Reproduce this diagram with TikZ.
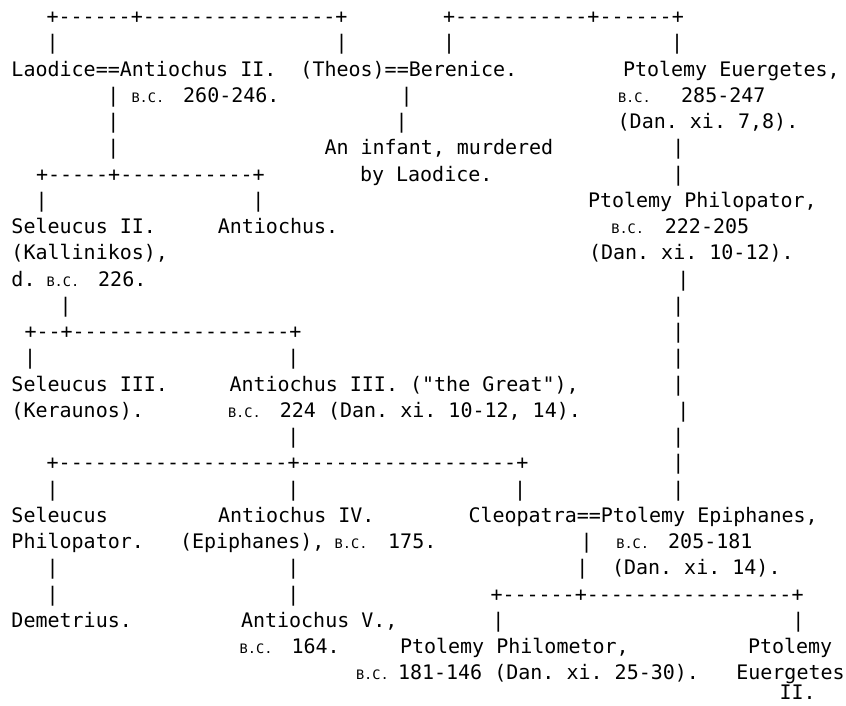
\documentclass[tikz,border=0pt]{standalone}
\usepackage{fontspec}
\setmonofont{DejaVu Sans Mono}
\newfontfamily\bcfont{DejaVu Sans Mono}[FakeStretch=1.05]
\frenchspacing

\begin{document}
\begin{tikzpicture}[x=1pt, y=-1pt,
    txt/.style={anchor=base west, inner sep=0pt, outer sep=0pt,
                font=\ttfamily\fontsize{20pt}{20pt}\selectfont},
    bc/.style={txt, font=\bcfont\fontsize{13pt}{13pt}\selectfont}]
  \useasboundingbox (0,0) rectangle (846,705);
  \node[txt] (seleucidtop) at (46.5,23.5) {+------+----------------+};
  \node[txt] (ptolemytop) at (443,23.5) {+-----------+------+};
  \node[txt] (b1a) at (46.7,49.75) {|};
  \node[txt] (b1b) at (335.7,49.75) {|};
  \node[txt] (b1c) at (443,49.75) {|};
  \node[txt] (b1d) at (671,49.75) {|};
  \node[txt] (antiochus2) at (11.5,76) {Laodice==Antiochus II.~~(Theos)==Berenice.};
  \node[txt] (euergetes) at (623,76) {Ptolemy Euergetes,};
  \node[txt] (b3a) at (107.3,102.25) {|};
  \node[bc] (bc1) at (131.5,102.25) {B.C.};
  \node[txt] (yr1) at (183.2,102.25) {260-246.};
  \node[txt] (b3b) at (400.7,102.25) {|};
  \node[bc] (bc2) at (618,102.25) {B.C.};
  \node[txt] (yr2) at (681.2,102.25) {285-247};
  \node[txt] (b4a) at (107.3,128.5) {|};
  \node[txt] (b4b) at (395.7,128.5) {|};
  \node[txt] (dan1) at (617.7,128.5) {(Dan. xi. 7,8).};
  \node[txt] (b5a) at (107.3,154.75) {|};
  \node[txt] (infant) at (324.5,154.75) {An infant, murdered};
  \node[txt] (b5b) at (672.3,154.75) {|};
  \node[txt] (antiochus2kids) at (36,181) {+-----+-----------+};
  \node[txt] (laodice) at (360,181) {by Laodice.};
  \node[txt] (b6a) at (672.3,181) {|};
  \node[txt] (b7a) at (35.7,207.25) {|};
  \node[txt] (b7b) at (252.3,207.25) {|};
  \node[txt] (philopator) at (588,207.25) {Ptolemy Philopator,};
  \node[txt] (seleucus2) at (11.5,233.5) {Seleucus II.};
  \node[txt] (antiochus) at (217.8,233.5) {Antiochus.};
  \node[bc] (bc3) at (611.3,233.5) {B.C.};
  \node[txt] (yr3) at (664.9,233.5) {222-205};
  \node[txt] (kallinikos) at (11.5,259.75) {(Kallinikos),};
  \node[txt] (dan2) at (589,259.75) {(Dan. xi. 10-12).};
  \node[txt] (died) at (11.5,286) {d.};
  \node[bc] (bc4) at (46.5,286) {B.C.};
  \node[txt] (yr4) at (98.2,286) {226.};
  \node[txt] (b10a) at (677.3,286) {|};
  \node[txt] (b11a) at (59.7,312.25) {|};
  \node[txt] (b11b) at (672.3,312.25) {|};
  \node[txt] (seleucus2kids) at (24.5,338.5) {+--+------------------+};
  \node[txt] (b12a) at (672.3,338.5) {|};
  \node[txt] (b13a) at (24,364.75) {|};
  \node[txt] (b13b) at (287.3,364.75) {|};
  \node[txt] (b13c) at (672.3,364.75) {|};
  \node[txt] (seleucus3) at (11.5,391) {Seleucus III.};
  \node[txt] (antiochus3) at (229.5,391) {Antiochus III. ("the Great"),};
  \node[txt] (b14a) at (672.3,391) {|};
  \node[txt] (keraunos) at (11.5,417.25) {(Keraunos).};
  \node[bc] (bc5) at (228,417.25) {B.C.};
  \node[txt] (yr5) at (279.9,417.25) {224 (Dan. xi. 10-12, 14).};
  \node[txt] (b15a) at (677.3,417.25) {|};
  \node[txt] (b16a) at (287.3,443.5) {|};
  \node[txt] (b16b) at (672.3,443.5) {|};
  \node[txt] (antiochus3kids) at (46.7,469.75) {+-------------------+------------------+};
  \node[txt] (b17a) at (672.3,469.75) {|};
  \node[txt] (b18a) at (46.7,496) {|};
  \node[txt] (b18b) at (287.3,496) {|};
  \node[txt] (b18c) at (514,496) {|};
  \node[txt] (b18d) at (672.3,496) {|};
  \node[txt] (seleucus4) at (11.5,522.25) {Seleucus};
  \node[txt] (antiochus4) at (218,522.25) {Antiochus IV.};
  \node[txt] (epiphanes) at (468.5,522.25) {Cleopatra==Ptolemy Epiphanes,};
  \node[txt] (philopator4) at (11.5,548.5) {Philopator.};
  \node[txt] (epiphanes4) at (180,548.5) {(Epiphanes),};
  \node[bc] (bc6) at (334.7,548.5) {B.C.};
  \node[txt] (yr6) at (388.2,548.5) {175.};
  \node[txt] (b20a) at (580.7,548.5) {|};
  \node[bc] (bc7) at (616.3,548.5) {B.C.};
  \node[txt] (yr7) at (668.2,548.5) {205-181};
  \node[txt] (b21a) at (46.7,574.75) {|};
  \node[txt] (b21b) at (287.3,574.75) {|};
  \node[txt] (b21c) at (576.3,574.75) {|};
  \node[txt] (dan3) at (612,574.75) {(Dan. xi. 14).};
  \node[txt] (b22a) at (46.7,601) {|};
  \node[txt] (b22b) at (287.3,601) {|};
  \node[txt] (epiphaneskids) at (490.5,601) {+------+-----------------+};
  \node[txt] (demetrius) at (11.5,627.25) {Demetrius.};
  \node[txt] (antiochus5) at (241,627.25) {Antiochus V.,};
  \node[txt] (b23a) at (492.3,627.25) {|};
  \node[txt] (b23b) at (792.3,627.25) {|};
  \node[bc] (bc8) at (239.7,653.5) {B.C.};
  \node[txt] (yr8) at (291.5,653.5) {164.};
  \node[txt] (philometor) at (400,653.5) {Ptolemy Philometor,};
  \node[txt] (euergetes2) at (748,653.5) {Ptolemy};
  \node[bc] (bc9) at (356,679.75) {B.C.};
  \node[txt] (yr9) at (398,679.75) {181-146 (Dan. xi. 25-30).};
  \node[txt] (euergetes2b) at (736.3,679.75) {Euergetes};
  \node[txt] (euergetes2c) at (779.5,699.5) {II.};
\end{tikzpicture}
\end{document}
